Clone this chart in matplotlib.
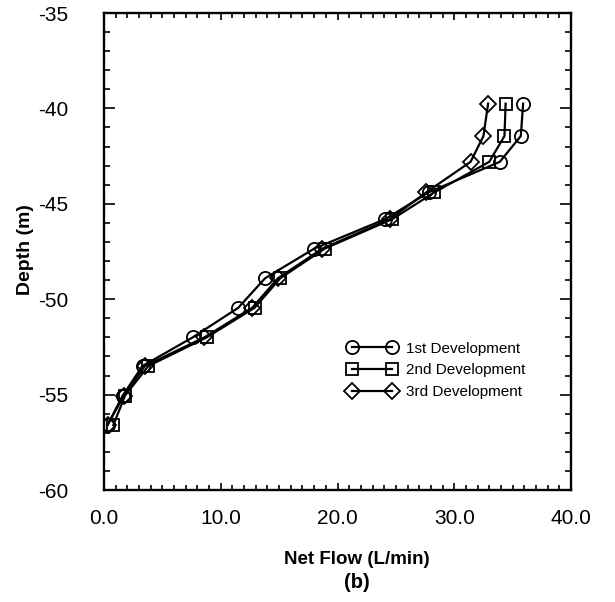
import numpy as np
import matplotlib
matplotlib.use("Agg")
import matplotlib.pyplot as plt
from matplotlib.ticker import MultipleLocator, FormatStrFormatter

plt.rcParams['font.family'] = ['Liberation Sans', 'DejaVu Sans']
plt.rcParams['axes.unicode_minus'] = False

# depth of each measurement (m)
depth = [-39.75, -41.45, -42.8, -44.4, -45.8, -47.35, -48.9, -50.45, -52.0, -53.5, -55.05, -56.6]
# net flow (L/min) for each development
flow1 = [35.9, 35.7, 33.9, 27.8, 24.1, 18.0, 13.8, 11.5, 7.6, 3.3, 1.6, 0.3]
flow2 = [34.4, 34.3, 33.0, 28.3, 24.7, 18.9, 15.1, 12.9, 8.8, 3.8, 1.8, 0.8]
flow3 = [32.9, 32.5, 31.4, 27.6, 24.5, 18.7, 14.9, 12.7, 8.6, 3.5, 1.7, 0.3]
names = ["1st Development", "2nd Development", "3rd Development"]

fig = plt.figure(figsize=(6.15, 6.02), dpi=100)
ax = fig.add_axes([104/615, 1-490/602, 467/615, 477/602])

ax.plot(flow1, depth, 'k-', marker='o', ms=9.5, mfc='none', mew=1.3, lw=1.6, label=names[0])
ax.plot(flow2, depth, 'k-', marker='s', ms=9, mfc='none', mew=1.3, lw=1.6, label=names[1])
ax.plot(flow3, depth, 'k-', marker='D', ms=8, mfc='none', mew=1.3, lw=1.6, label=names[2])

ax.set_xlim(0, 40)
ax.set_ylim(-60, -35)
ax.xaxis.set_major_locator(MultipleLocator(10))
ax.xaxis.set_minor_locator(MultipleLocator(1))
ax.yaxis.set_major_locator(MultipleLocator(5))
ax.yaxis.set_minor_locator(MultipleLocator(1))
ax.xaxis.set_major_formatter(FormatStrFormatter('%.1f'))
ax.tick_params(which='both', direction='in', top=True, right=True, width=1.2)
ax.tick_params(which='major', labelsize=15)
ax.tick_params(axis='x', which='major', length=5, pad=14)
ax.tick_params(axis='x', which='minor', length=3.5)
ax.tick_params(axis='y', which='major', length=8, pad=26)
ax.tick_params(axis='y', which='minor', length=4.5)
for s in ax.spines.values():
    s.set_linewidth(1.7)

fig.text(357/615, 1-560/602, "Net Flow (L/min)", ha='center', va='center',
         fontsize=13.5, fontweight='bold')
fig.text(357/615, 1-583/602, "(b)", ha='center', va='center',
         fontsize=14.5, fontweight='bold')
fig.text(25/615, 1-250/602, "Depth (m)", ha='center', va='center', rotation=90,
         fontsize=14, fontweight='bold')

ax.legend(loc='upper left', bbox_to_anchor=((340-104)/467, (490-334)/477),
          frameon=False, numpoints=2, handlelength=3.2, handletextpad=0.6,
          labelspacing=0.5, borderpad=0, fontsize=11)

fig.savefig("out.png", dpi=100)
